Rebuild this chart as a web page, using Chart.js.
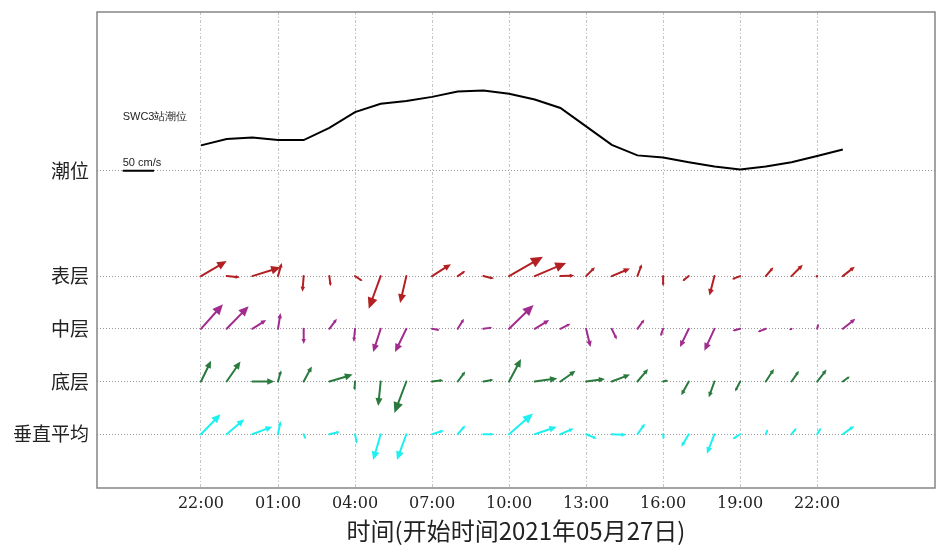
<!DOCTYPE html>
<html>
<head>
<meta charset="utf-8">
<script src="https://cdn.jsdelivr.net/npm/chart.js@4/dist/chart.umd.min.js"></script>
<style>
  html, body { margin: 0; padding: 0; background: #fff; }
  #wrap { width: 939px; height: 545px; position: relative; }
</style>
</head>
<body>
<div id="wrap"><canvas id="chart"></canvas></div>
<script>
// Hourly observation times (first record at 22:00)
const timeLabels = ['22:00','23:00','00:00','01:00','02:00','03:00','04:00','05:00','06:00','07:00',
  '08:00','09:00','10:00','11:00','12:00','13:00','14:00','15:00','16:00','17:00',
  '18:00','19:00','20:00','21:00','22:00','23:00'];

// Labelled times on the time axis
const tickLabels = ['22:00','01:00','04:00','07:00','10:00','13:00','16:00','19:00','22:00'];

// Row names and their vertical slot on the chart
const rowNames = ['垂直平均','底层','中层','表层','潮位'];
const rowSlots = [0, 1, 2, 3, 5];

// SWC3 tide curve, plotted in row-slot units above the 潮位 line
const tideLevel = [5.48,5.60,5.63,5.58,5.58,5.81,6.11,6.27,6.32,6.40,6.50,6.52,6.46,
  6.35,6.19,5.84,5.49,5.29,5.25,5.16,5.08,5.02,5.08,5.16,5.28,5.40];

// Current components (cm/s): u eastward, v northward
const surfaceU = [41,21,45,6,-2,2,12,-19,-10,30,12,17,54,50,22,14,29,7,0,-10,-8,-13,12,18,2,19];
const surfaceV = [24,-2,14,21,-25,-16,-8,-52,-43,19,8,-4,31,21,1,14,12,19,-16,-8,-31,-5,14,18,1,15];
const middleU  = [35,35,22,4,0,12,-2,-12,-18,12,10,14,39,23,16,7,8,11,-4,-14,-16,-12,-13,-4,2,20];
const middleV  = [39,36,14,25,-24,16,-21,-37,-37,-2,16,2,38,14,8,-29,-17,15,-12,-29,-35,-3,-5,-2,8,16];
const bottomU  = [16,22,35,5,13,37,-1,-4,-19,18,12,16,19,36,24,30,29,17,8,-12,-9,-8,13,12,15,11];
const bottomV  = [33,32,0,18,24,11,-14,-39,-50,2,16,3,36,5,17,4,11,20,2,-22,-25,-16,20,17,19,8];
const meanU    = [31,28,32,4,3,17,3,-12,-15,19,12,17,38,35,21,17,23,12,1,-12,-12,-12,3,8,6,18];
const meanV    = [32,24,12,21,-8,4,-15,-41,-41,6,14,0,33,12,9,-7,-1,17,-8,-20,-31,-8,8,10,10,13];

const rowColors = ['#1ef0f0', '#2a7a3e', '#a22c8e', '#b32024'];
const scaleBarSpeed = 50;           // cm/s shown by the legend bar
const hoursPerScaleBar = 1.223;     // horizontal span of a 50 cm/s arrow, in hours

// Convert clock labels to running hours since the first record
function toHours(labels) {
  let day = 0, prev = -1, first = null;
  return labels.map(s => {
    const h = parseInt(s.split(':')[0], 10);
    if (prev >= 0 && h < prev) day++;
    prev = h;
    const abs = h + 24 * day;
    if (first === null) first = abs;
    return abs - first;
  });
}
const timeHours = toHours(timeLabels);
const tickHours = toHours(tickLabels);

const layers = [
  { u: meanU, v: meanV, slot: rowSlots[0], color: rowColors[0] },
  { u: bottomU, v: bottomV, slot: rowSlots[1], color: rowColors[1] },
  { u: middleU, v: middleV, slot: rowSlots[2], color: rowColors[2] },
  { u: surfaceU, v: surfaceV, slot: rowSlots[3], color: rowColors[3] }
];

function drawArrow(ctx, x0, y0, x1, y1, color) {
  const dx = x1 - x0, dy = y1 - y0;
  const len = Math.hypot(dx, dy);
  if (len < 0.5) return;
  const ux = dx / len, uy = dy / len;
  const hl = Math.min(12, Math.max(2.5, len * 0.32));
  const hw = hl * 0.45;
  const bx = x1 - ux * hl, by = y1 - uy * hl;
  ctx.strokeStyle = color;
  ctx.fillStyle = color;
  ctx.lineWidth = 2;
  ctx.lineCap = 'round';
  ctx.beginPath();
  ctx.moveTo(x0, y0);
  ctx.lineTo(bx + ux * 0.5, by + uy * 0.5);
  ctx.stroke();
  ctx.beginPath();
  ctx.moveTo(x1, y1);
  ctx.lineTo(bx - uy * hw, by + ux * hw);
  ctx.lineTo(bx + uy * hw, by - ux * hw);
  ctx.closePath();
  ctx.fill();
}

const quiverPlugin = {
  id: 'quiver',
  afterDatasetsDraw(chart) {
    const ctx = chart.ctx;
    const xs = chart.scales.x, ys = chart.scales.y;
    const pxPerCms = (xs.getPixelForValue(hoursPerScaleBar) - xs.getPixelForValue(0)) / scaleBarSpeed;
    ctx.save();
    layers.forEach(layer => {
      timeHours.forEach((t, i) => {
        const x0 = xs.getPixelForValue(t);
        const y0 = ys.getPixelForValue(layer.slot);
        drawArrow(ctx, x0, y0, x0 + layer.u[i] * pxPerCms, y0 - layer.v[i] * pxPerCms, layer.color);
      });
    });

    // speed scale bar on the 潮位 line
    const sx = xs.getPixelForValue(-3.05);
    const sy = ys.getPixelForValue(rowSlots[4]);
    ctx.strokeStyle = '#000';
    ctx.lineWidth = 2;
    ctx.lineCap = 'butt';
    ctx.beginPath();
    ctx.moveTo(sx, sy);
    ctx.lineTo(sx + scaleBarSpeed * pxPerCms, sy);
    ctx.stroke();
    ctx.fillStyle = '#222';
    ctx.font = '11px "Liberation Sans", Arial, sans-serif';
    ctx.textAlign = 'left';
    ctx.textBaseline = 'alphabetic';
    ctx.fillText('50 cm/s', sx, sy - 5);
    ctx.textBaseline = 'middle';
    ctx.fillText('SWC3站潮位', sx, ys.getPixelForValue(6.01));

    // plot frame
    const a = chart.chartArea;
    ctx.strokeStyle = '#858585';
    ctx.lineWidth = 1.5;
    ctx.strokeRect(a.left, a.top, a.right - a.left, a.bottom - a.top);
    ctx.restore();
  }
};

new Chart(document.getElementById('chart'), {
  type: 'line',
  data: {
    datasets: [{
      label: 'SWC3站潮位',
      data: timeHours.map((t, i) => ({ x: t, y: tideLevel[i] })),
      borderColor: '#000',
      borderWidth: 2,
      pointRadius: 0,
      tension: 0,
      fill: false
    }]
  },
  options: {
    responsive: true,
    maintainAspectRatio: false,
    animation: false,
    devicePixelRatio: 1,
    layout: { padding: { top: 12, right: 4, left: 0, bottom: 0 } },
    plugins: { legend: { display: false }, tooltip: { enabled: false } },
    scales: {
      x: {
        type: 'linear',
        min: -4.05,
        max: 28.59,
        afterBuildTicks: s => { s.ticks = tickHours.map(v => ({ value: v })); },
        afterFit: s => { s.height = 57; s.paddingLeft = 0; s.paddingRight = 0; },
        ticks: {
          autoSkip: false,
          maxRotation: 0,
          padding: 6,
          color: '#222',
          font: { family: '"DejaVu Serif", serif', size: 16 },
          callback: (v) => tickLabels[tickHours.indexOf(v)]
        },
        grid: { color: '#c4c4c4', lineWidth: 1, drawTicks: false },
        border: { display: false, dash: [3, 2, 1, 2] },
        title: {
          display: true,
          text: '时间(开始时间2021年05月27日)',
          color: '#222',
          font: { family: '"Noto Sans CJK SC", sans-serif', size: 24 },
          padding: { top: -4, bottom: 0 }
        }
      },
      y: {
        type: 'linear',
        min: -1.02,
        max: 8.01,
        afterBuildTicks: s => { s.ticks = rowSlots.map(v => ({ value: v })); },
        afterFit: s => { s.width = 97; s.paddingTop = 0; s.paddingBottom = 0; },
        ticks: {
          autoSkip: false,
          padding: 8,
          color: '#222',
          font: { family: '"Noto Sans CJK SC", sans-serif', size: 19 },
          callback: (v) => rowNames[rowSlots.indexOf(v)]
        },
        grid: { color: '#9a9a9a', lineWidth: 1, drawTicks: false },
        border: { display: false, dash: [1, 2] }
      }
    }
  },
  plugins: [quiverPlugin]
});
</script>
</body>
</html>
